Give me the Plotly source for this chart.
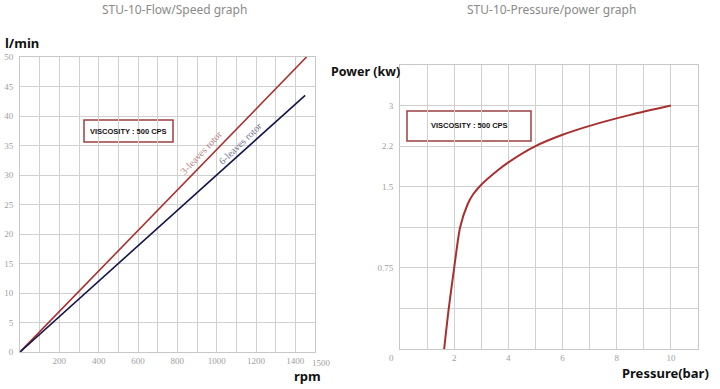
import numpy as np
import plotly.graph_objects as go

# ---------------- data ----------------
# Flow / speed graph
rpm_3leaves = [0, 1457]
flow_3leaves = [0, 50]
rpm_6leaves = [0, 1450]
flow_6leaves = [0, 43.5]

flow_x_ticks = list(range(0, 1501, 100))
flow_x_labels = ["" if (v == 0 or v % 200 or v == 1500) else str(v) for v in flow_x_ticks]
flow_x_end_label = "1500"
flow_y_ticks = list(range(0, 51, 5))
flow_y_labels = [str(v) for v in flow_y_ticks]

# Pressure / power graph (power axis is drawn with its own non-linear labelling)
pressure_bar = [1.63, 1.80, 2.00, 2.22, 2.50, 2.70, 3.00, 3.60, 4.00, 5.00, 6.00, 7.00, 8.50, 10.0]
power_kw = [0, 0.375, 0.75, 1.125, 1.34, 1.43, 1.535, 1.78, 1.92, 2.2, 2.424, 2.6, 2.816, 3.0]

power_tick_values = [0, 0.75, 1.5, 2.2, 3]
power_tick_slots = [0, 2, 4, 5, 6]          # grid row where each label sits
power_tick_labels = ["", "0.75", "1.5", "2.2", "3"]
pressure_ticks = list(range(0, 12))
pressure_labels = [str(v) if (v % 2 == 0 and 0 < v <= 10) else "" for v in pressure_ticks]


def power_scale(v):
    return np.interp(v, power_tick_values, power_tick_slots)


W, H = 720, 389
RED = "#a8302f"
NAVY = "#15154a"
GRID = "#d0d0d0"
TICKFONT = dict(family="Liberation Serif", size=9, color="#a0a0a0")
BOLD = "Noto Sans"

fig = go.Figure()

fig.add_trace(go.Scatter(x=rpm_3leaves, y=flow_3leaves, mode="lines",
                         line=dict(color=RED, width=1.6), xaxis="x", yaxis="y",
                         showlegend=False, hoverinfo="skip"))
fig.add_trace(go.Scatter(x=rpm_6leaves, y=flow_6leaves, mode="lines",
                         line=dict(color=NAVY, width=1.6), xaxis="x", yaxis="y",
                         showlegend=False, hoverinfo="skip"))
fig.add_trace(go.Scatter(x=pressure_bar, y=power_scale(power_kw), mode="lines",
                         line=dict(color=RED, width=2, shape="spline", smoothing=0.7),
                         xaxis="x2", yaxis="y2", showlegend=False, hoverinfo="skip"))


def px(xp):
    return xp / W


def py(yp):
    return 1 - yp / H


axis_common = dict(showgrid=True, gridcolor=GRID, gridwidth=1, zeroline=False,
                   showline=True, linecolor="#c8c8c8", linewidth=1, mirror=True,
                   ticks="", tickfont=TICKFONT, fixedrange=True, automargin=False,
                   tickangle=0)

fig.update_layout(
    width=W, height=H, autosize=False,
    margin=dict(l=0, r=0, t=0, b=0, autoexpand=False),
    paper_bgcolor="white", plot_bgcolor="white",
    xaxis=dict(domain=[px(20), px(315)], range=[0, 1500], tickmode="array",
               tickvals=flow_x_ticks, ticktext=flow_x_labels, anchor="y",
               ticklabelstandoff=0, **axis_common),
    yaxis=dict(domain=[py(352), py(57)], range=[0, 50], tickmode="array",
               tickvals=flow_y_ticks, ticktext=flow_y_labels, anchor="x",
               ticklabelstandoff=4, **axis_common),
    xaxis2=dict(domain=[px(400), px(698)], range=[0, 11], tickmode="array",
                tickvals=pressure_ticks, ticktext=pressure_labels, anchor="y2",
                ticklabelstandoff=0, **axis_common),
    yaxis2=dict(domain=[py(349), py(65)], range=[0, 7], tickmode="array",
                tickvals=list(range(0, 8)),
                ticktext=[dict(zip(power_tick_slots, power_tick_labels)).get(i, "") for i in range(0, 8)],
                anchor="x2", ticklabelstandoff=4, **axis_common),
)

C = dict(xanchor="center", yanchor="middle", showarrow=False)
ann = []
# titles
ann.append(dict(text="STU-10-Flow/Speed graph", x=px(174), y=py(9), xref="paper", yref="paper",
                font=dict(family="Noto Sans", size=12, color="#8a8a8a"), **C))
ann.append(dict(text="STU-10-Pressure/power graph", x=px(551), y=py(9), xref="paper", yref="paper",
                font=dict(family="Noto Sans", size=12, color="#8a8a8a"), **C))
# axis labels
ann.append(dict(text="<b>l/min</b>", x=px(22), y=py(43), xref="paper", yref="paper",
                font=dict(family=BOLD, size=13, color="#111"), **C))
ann.append(dict(text="<b>rpm</b>", x=px(307), y=py(376), xref="paper", yref="paper",
                font=dict(family=BOLD, size=13, color="#111"), **C))
ann.append(dict(text="<b>Power (kw)</b>", x=px(365), y=py(71), xref="paper", yref="paper",
                font=dict(family=BOLD, size=12.5, color="#111"), **C))
ann.append(dict(text="<b>Pressure(bar)</b>", x=px(665), y=py(373), xref="paper", yref="paper",
                font=dict(family=BOLD, size=13, color="#111"), **C))
# extra tick-like labels
ann.append(dict(text="0", x=px(392), y=py(358), xref="paper", yref="paper", font=TICKFONT, **C))
ann.append(dict(text=flow_x_end_label, x=1500, xref="x", y=py(363), yref="paper", xshift=6,
                font=TICKFONT, **C))
# viscosity boxes
for cx, cy in [(128.5, 131), (469, 126)]:
    ann.append(dict(text="<b>VISCOSITY : 500 CPS</b>", x=px(cx), y=py(cy), xref="paper", yref="paper",
                    font=dict(family="Liberation Sans", size=7.5, color="#111"), **C))
# rotor labels
ann.append(dict(text="3-leaves rotor", x=px(201), y=py(152), xref="paper", yref="paper",
                textangle=-47, font=dict(family="Liberation Serif", size=10, color="#b88484"), **C))
ann.append(dict(text="6-leaves rotor", x=px(240), y=py(143), xref="paper", yref="paper",
                textangle=-44, font=dict(family="Liberation Serif", size=10, color="#707090"), **C))

shapes = []
for x0, y0, x1, y1 in [(84, 120, 173, 142), (407, 111, 531, 141)]:
    shapes.append(dict(type="rect", xref="paper", yref="paper", layer="below",
                       x0=px(x0), x1=px(x1), y0=py(y1), y1=py(y0),
                       line=dict(color="#9a3f42", width=1.5), fillcolor="white"))

fig.update_layout(annotations=ann, shapes=shapes)

post = ("document.body.style.margin='0';document.body.style.padding='0';"
        "document.body.style.overflow='hidden';"
        "var gd=document.getElementById('{plot_id}');"
        "gd.style.position='absolute';gd.style.left='0px';gd.style.top='0px';")

fig.write_html("out.html", post_script=post, config={"displayModeBar": False, "staticPlot": True})
